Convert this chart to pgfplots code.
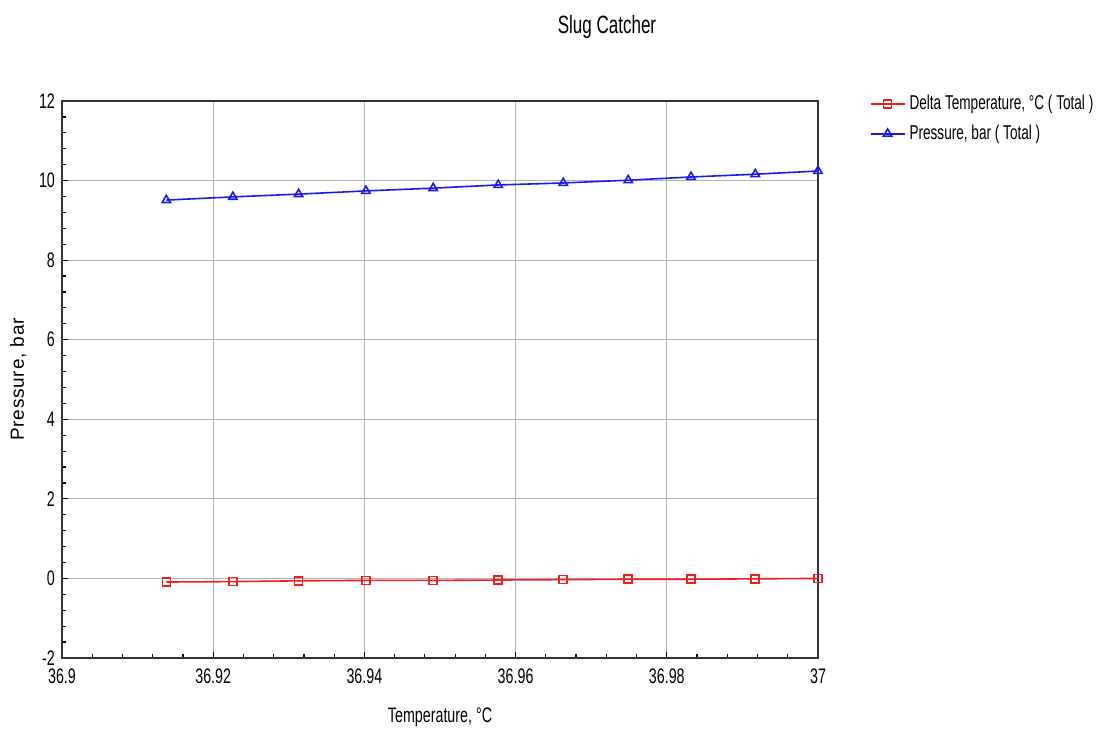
\documentclass[border=0pt]{standalone}
\usepackage{fontspec}
\setmainfont{Liberation Sans}[FakeStretch=0.68]
\newfontfamily\widefont{Liberation Sans}[LetterSpace=4]
\usepackage{pgfplots}
\pgfplotsset{compat=1.18}
\definecolor{lineblue}{HTML}{1A1AF0}
\definecolor{linered}{HTML}{F02020}

\begin{document}
\begin{tikzpicture}
\useasboundingbox (0,0) rectangle (553.5pt,365pt);
\begin{axis}[
    at={(31pt,36pt)}, anchor=south west,
    scale only axis, width=378pt, height=278.5pt,
    xmin=36.9, xmax=37, ymin=-2, ymax=12,
    xtick={36.9,36.92,36.94,36.96,36.98,37},
    xticklabels={36.9,36.92,36.94,36.96,36.98,37},
    ytick={-2,0,2,4,6,8,10,12},
    yticklabels={-2,0,2,4,6,8,10,12},
    minor x tick num=4, minor y tick num=4,
    tick pos=left, tick align=inside,
    major tick length=3pt, minor tick length=2pt,
    grid=major,
    major grid style={draw=black!30, line width=0.6pt},
    axis line style={draw=black!80, line width=0.8pt},
    tick style={draw=black, line width=0.6pt},
    tick label style={font=\fontsize{10.5}{12}\selectfont},
    xticklabel style={yshift=-2pt},
    /pgf/number format/assume math mode=true,
    xlabel={Temperature, °C},
    xlabel style={at={(axis description cs:0.5,-0.106)}, anchor=center, font=\fontsize{10.5}{12}\selectfont},
    ylabel={\widefont Pressure, bar},
    ylabel style={at={(axis description cs:-0.058,0.5)}, anchor=center, font=\fontsize{9.5}{12}\selectfont},
    legend style={at={(1.06,1.025)}, anchor=north west, draw=none, fill=none,
        font=\fontsize{10}{12}\selectfont, row sep=2pt},
    legend cell align=left,
]
\addplot[linered, line width=0.8pt, mark=square, mark size=2pt, mark options={solid}] coordinates {
(36.9138,-0.09) (36.9226,-0.08) (36.9313,-0.06) (36.9402,-0.05) (36.9491,-0.05)
(36.9577,-0.04) (36.9663,-0.03) (36.9749,-0.02) (36.9832,-0.02) (36.9917,-0.01) (37.0,0.0)};
\addlegendentry{Delta Temperature, °C ( Total )}
\addplot[lineblue, line width=0.8pt, mark=triangle, mark size=2.4pt, mark options={solid}] coordinates {
(36.9138,9.51) (36.9226,9.59) (36.9313,9.66) (36.9402,9.74) (36.9491,9.81)
(36.9577,9.89) (36.9663,9.94) (36.9749,10.01) (36.9832,10.09) (36.9917,10.16) (37.0,10.24)};
\addlegendentry{Pressure, bar ( Total )}
\end{axis}
\node at (303.5pt,351.5pt) {\fontsize{12.5}{14}\selectfont Slug Catcher};
\end{tikzpicture}
\end{document}
